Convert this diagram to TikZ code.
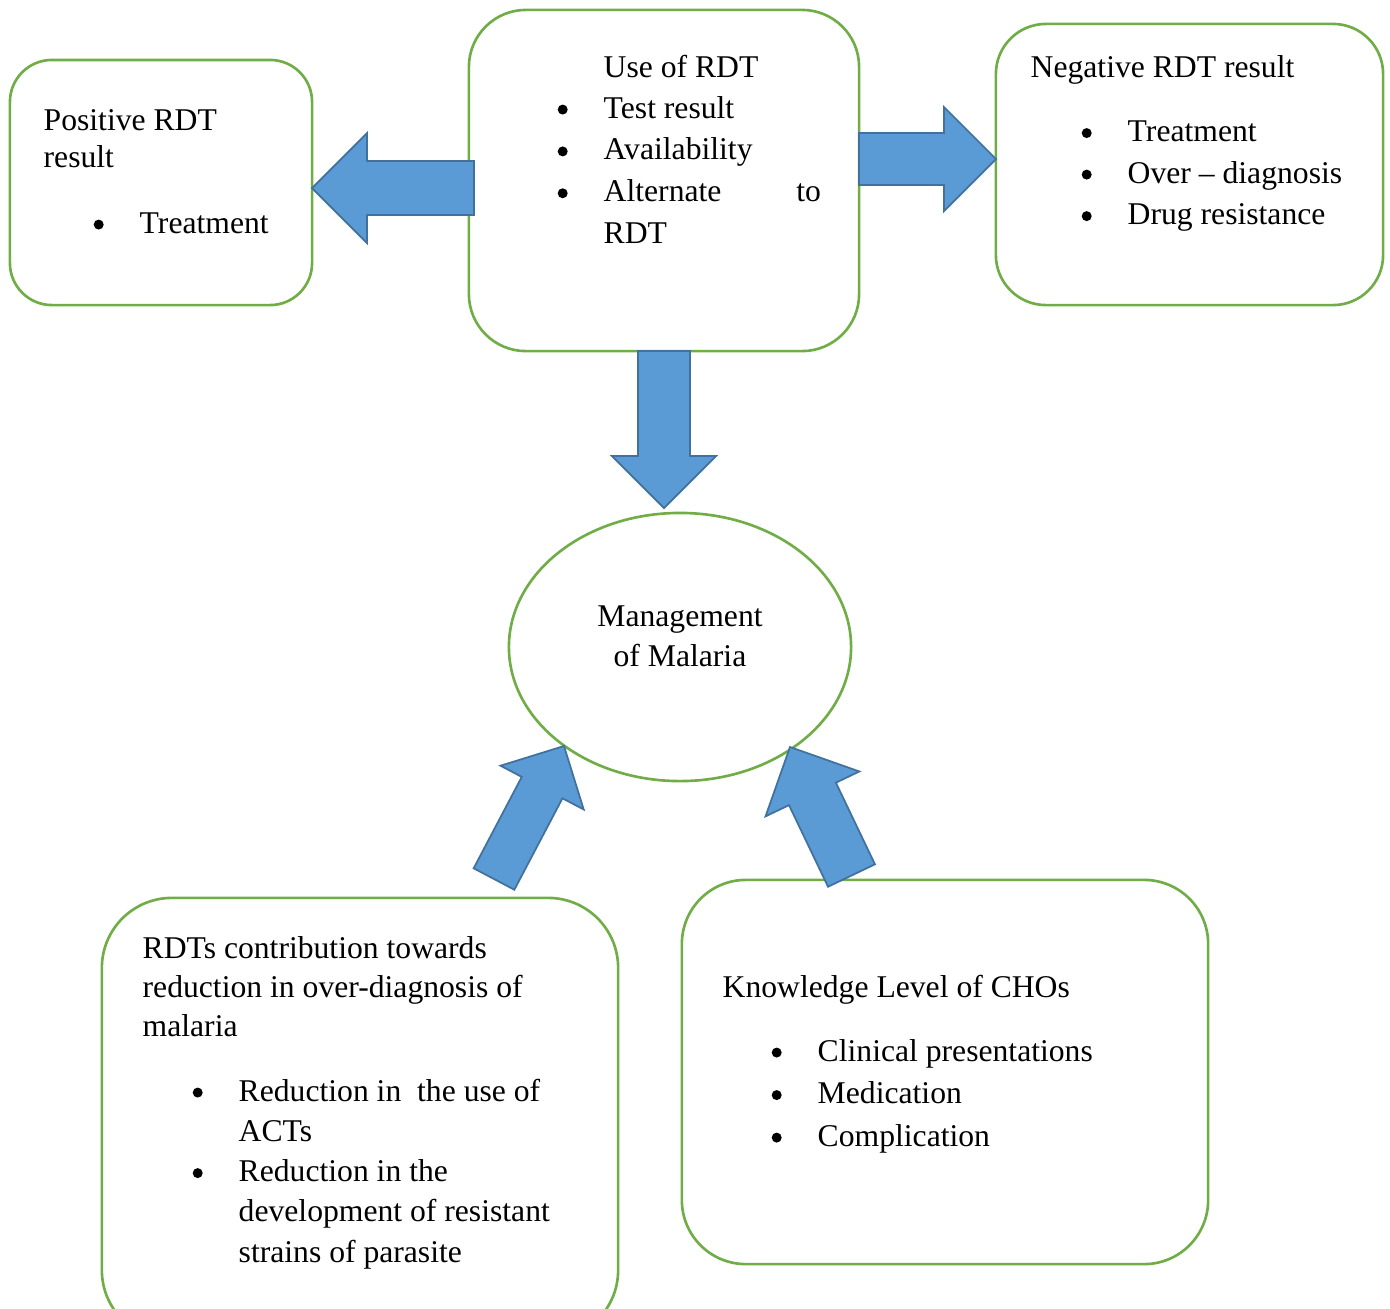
\documentclass[tikz,border=0pt]{standalone}
\usepackage{fontspec}
\setmainfont{Liberation Serif}
\usepackage{array}
\usetikzlibrary{calc,shapes.geometric}

\definecolor{boxgreen}{HTML}{70AD47}
\definecolor{arrowfill}{HTML}{5B9BD5}
\definecolor{arrowline}{HTML}{41719C}

\newcommand{\lines}[1]{\begin{tabular}[t]{@{}l@{}}#1\end{tabular}}
\newcommand{\bulletlist}[1]{\begin{tabular}[t]{@{}w{l}{0.46cm}@{}l@{}}#1\end{tabular}}
\newcommand{\bul}{\tikz[baseline=-2.4pt]\fill (0,0) circle (1.42pt);}

\tikzset{
  box/.style={draw=boxgreen, line width=0.75pt, fill=white},
  txt/.style={inner sep=0pt, anchor=base west, font=\fontsize{9}{#1}\selectfont},
  txt/.default=11.6pt,
  blockarrow/.style 2 args={fill=arrowfill, draw=arrowline, line width=0.5pt,
    /utils/exec={%
      \pgfmathsetlengthmacro\baw{#1*0.01cm}%
      \pgfmathsetlengthmacro\bai{sqrt(#1*#1+#2*#2)*0.01cm}%
      \pgfmathsetlengthmacro\bao{#2*sqrt(2)*0.01cm}%
      \pgfmathsetmacro\baa{atan(#1/#2)}},
    to path={($(\tikztostart)!\baw!90:(\tikztotarget)$)
      -- ($(\tikztotarget)!\bai!-\baa:(\tikztostart)$)
      -- ($(\tikztotarget)!\bao!-45:(\tikztostart)$)
      -- (\tikztotarget)
      -- ($(\tikztotarget)!\bao!45:(\tikztostart)$)
      -- ($(\tikztotarget)!\bai!\baa:(\tikztostart)$)
      -- ($(\tikztostart)!\baw!-90:(\tikztotarget)$) -- cycle}}
}

\begin{document}
\begin{tikzpicture}[x=0.01cm, y=-0.01cm]
\useasboundingbox (0,0) rectangle (1390,1308);

% Boxes
\node[box, minimum width=3.02cm, minimum height=2.45cm, rounded corners=0.42cm] (pos) at (161,182.5) {};
\node[box, minimum width=3.90cm, minimum height=3.41cm, rounded corners=0.57cm] (use) at (664,180.5) {};
\node[box, minimum width=3.87cm, minimum height=2.81cm, rounded corners=0.5cm] (neg) at (1189.5,164.5) {};
\node[box, ellipse, minimum width=3.42cm, minimum height=2.68cm] (mgmt) at (680,647) {};
\node[box, minimum width=5.16cm, minimum height=4.42cm, rounded corners=0.7cm] (rdts) at (360,1119) {};
\node[box, minimum width=5.26cm, minimum height=3.84cm, rounded corners=0.64cm] (know) at (945,1072) {};

% Texts
\node[txt=10.8pt] (postitle) at (43,130) {\lines{Positive RDT\\result}};
\node[txt] (poslist) at (93,233) {\bulletlist{\bul & Treatment}};

\node[txt] (usetitle) at (603,77) {Use of RDT};
\node[txt=11.9pt] (uselist) at (557,118) {\bulletlist{%
  \bul & Test result\\
  \bul & Availability\\
  \bul & \makebox[2.17cm][l]{Alternate\hfill to}\\
  & RDT}};

\node[txt] (negtitle) at (1030,77) {Negative RDT result};
\node[txt=11.81pt] (neglist) at (1081,141.5) {\bulletlist{%
  \bul & Treatment\\
  \bul & Over -- diagnosis\\
  \bul & Drug resistance}};

\node[txt=11.38pt, anchor=base] (mgmttext) at (680,626) {\begin{tabular}[t]{@{}c@{}}Management\\of Malaria\end{tabular}};

\node[txt=11.2pt] (rdtstitle) at (142,958) {\lines{RDTs contribution towards\\reduction in over-diagnosis of\\malaria}};
\node[txt=11.45pt] (rdtslist) at (192,1101) {\bulletlist{%
  \bul & Reduction in\ \ the use of\\
  & ACTs\\
  \bul & Reduction in the\\
  & development of resistant\\
  & strains of parasite}};

\node[txt] (knowtitle) at (722,997) {Knowledge Level of CHOs};
\node[txt=12.09pt] (knowlist) at (771,1061) {\bulletlist{%
  \bul & Clinical presentations\\
  \bul & Medication\\
  \bul & Complication}};

% Arrow ends
\coordinate (posS) at (474,188);
\coordinate (posT) at (312,188);
\coordinate (negS) at (859,159);
\coordinate (negT) at (996,159);
\coordinate (mgmtS) at (664,351);
\coordinate (mgmtT) at (664,508);
\coordinate (rdtsS) at (494,879);
\coordinate (rdtsT) at (564,746);
\coordinate (knowS) at (851.5,875.5);
\coordinate (knowT) at (790,747);

% Block arrows
\draw[blockarrow={27}{55}] (posS) to (posT);
\draw[blockarrow={26}{52}] (negS) to (negT);
\draw[blockarrow={26}{52}] (mgmtS) to (mgmtT);
\draw[blockarrow={23}{47}] (rdtsS) to (rdtsT);
\draw[blockarrow={26}{52}] (knowS) to (knowT);

\end{tikzpicture}
\end{document}
